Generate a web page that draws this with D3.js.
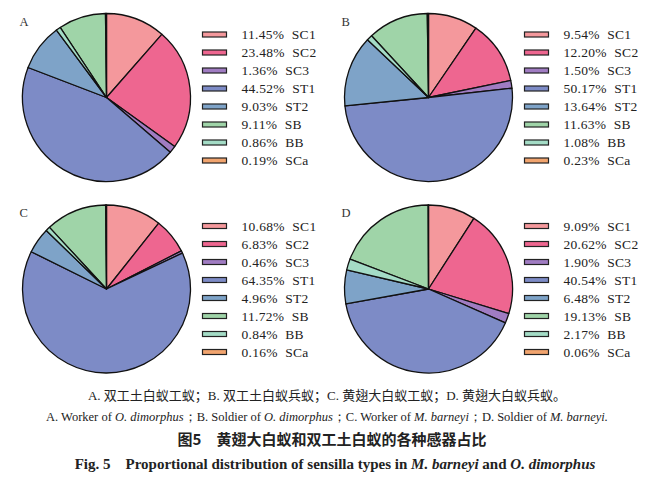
<!DOCTYPE html>
<html>
<head>
<meta charset="utf-8">
<script src="https://cdn.jsdelivr.net/npm/d3@7"></script>
<style>
  body { margin: 0; background: #fff; }
  svg { display: block; }
  text { white-space: pre; }
</style>
</head>
<body>
<div id="chart"></div>
<script>
// sensilla types, in legend order
const categories = ["SC1", "SC2", "SC3", "ST1", "ST2", "SB", "BB", "SCa"];
// order the slices are drawn clockwise from 12 o'clock
const pieOrder = ["SC1", "SC2", "SC3", "ST1", "ST2", "BB", "SB", "SCa"];

const panelNames = ["A", "B", "C", "D"];
const valuesA = [11.45, 23.48, 1.36, 44.52, 9.03, 9.11, 0.86, 0.19];
const valuesB = [9.54, 12.20, 1.50, 50.17, 13.64, 11.63, 1.08, 0.23];
const valuesC = [10.68, 6.83, 0.46, 64.35, 4.96, 11.72, 0.84, 0.16];
const valuesD = [9.09, 20.62, 1.90, 40.54, 6.48, 19.13, 2.17, 0.06];

const colors = ["#f4989c", "#ee6690", "#a07cc2", "#7d8bc6", "#7ea3c8", "#9fd4a8", "#a4dcc6", "#f1a46e"];

const captionCn = "A. 双工土白蚁工蚁；B. 双工土白蚁兵蚁；C. 黄翅大白蚁工蚁；D. 黄翅大白蚁兵蚁。";
const figTitleCn = "图5　黄翅大白蚁和双工土白蚁的各种感器占比";

const width = 653, height = 484;
const radius = 84;

const svg = d3.select("#chart").append("svg")
    .attr("width", width)
    .attr("height", height);

svg.append("rect").attr("width", width).attr("height", height).attr("fill", "#fff");

const color = d3.scaleOrdinal().domain(categories).range(colors);
const fmt = d3.format(".2f");

const pie = d3.pie()
    .value(d => d.value)
    .sort((a, b) => pieOrder.indexOf(a.key) - pieOrder.indexOf(b.key));
const arc = d3.arc().innerRadius(0).outerRadius(radius);

const panels = [
  {name: panelNames[0], values: valuesA, cx: 106.5, cy: 97.5},
  {name: panelNames[1], values: valuesB, cx: 428.5, cy: 97.5},
  {name: panelNames[2], values: valuesC, cx: 106.5, cy: 289},
  {name: panelNames[3], values: valuesD, cx: 428.5, cy: 289}
];

panels.forEach(p => {
  const data = categories.map((k, i) => ({key: k, value: p.values[i]}));
  const g = svg.append("g").attr("transform", `translate(${p.cx},${p.cy})`);

  g.selectAll("path")
    .data(pie(data))
    .join("path")
      .attr("d", arc)
      .attr("fill", d => color(d.data.key))
      .attr("stroke", "#111")
      .attr("stroke-width", 1.3)
      .attr("stroke-linejoin", "round");

  g.append("text")
      .attr("x", -87)
      .attr("y", -72)
      .attr("font-family", "'Liberation Serif', serif")
      .attr("font-size", 12.5)
      .attr("fill", "#333")
      .text(p.name);

  // legend
  const y = d3.scalePoint().domain(categories).range([-63, 63]);
  const leg = g.selectAll("g.leg")
    .data(data)
    .join("g")
      .attr("class", "leg")
      .attr("transform", d => `translate(0,${y(d.key)})`);

  leg.append("rect")
      .attr("x", 96)
      .attr("y", -2.5)
      .attr("width", 24)
      .attr("height", 5)
      .attr("fill", d => color(d.key))
      .attr("stroke", "#222")
      .attr("stroke-width", 1.2);

  leg.append("text")
      .attr("x", 135)
      .attr("y", 0)
      .attr("dy", "0.35em")
      .attr("font-family", "'Liberation Serif', serif")
      .attr("font-size", 13.5)
      .attr("letter-spacing", 0.3)
      .attr("fill", "#222")
      .text(d => fmt(d.value) + "%  " + d.key);
});

// captions
const cx = 327;
svg.append("text")
    .attr("x", cx).attr("y", 400)
    .attr("text-anchor", "middle")
    .attr("font-family", "'Liberation Serif', 'Noto Sans CJK SC', serif")
    .attr("font-size", 13)
    .attr("fill", "#222")
    .text(captionCn);

const en = svg.append("text")
    .attr("x", cx).attr("y", 421)
    .attr("text-anchor", "middle")
    .attr("font-family", "'Liberation Serif', serif")
    .attr("font-size", 12.5)
    .attr("fill", "#222");
[
  ["A. Worker of ", false], ["O. dimorphus", true], ["；B. Soldier of ", false], ["O. dimorphus", true],
  ["；C. Worker of ", false], ["M. barneyi", true], ["；D. Soldier of ", false], ["M. barneyi.", true]
].forEach(([t, it]) => en.append("tspan").attr("font-style", it ? "italic" : "normal").text(t));

svg.append("text")
    .attr("x", cx + 5).attr("y", 445)
    .attr("text-anchor", "middle")
    .attr("font-family", "'Noto Sans CJK SC', sans-serif")
    .attr("font-weight", "bold")
    .attr("font-size", 15)
    .attr("fill", "#222")
    .text(figTitleCn);

const fig = svg.append("text")
    .attr("x", cx + 8).attr("y", 469)
    .attr("text-anchor", "middle")
    .attr("font-family", "'Liberation Serif', serif")
    .attr("font-weight", "bold")
    .attr("font-size", 15)
    .attr("fill", "#222");
[
  ["Fig. 5    Proportional distribution of sensilla types in ", false], ["M. barneyi", true],
  [" and ", false], ["O. dimorphus", true]
].forEach(([t, it]) => fig.append("tspan").attr("font-style", it ? "italic" : "normal").text(t));
</script>
</body>
</html>
